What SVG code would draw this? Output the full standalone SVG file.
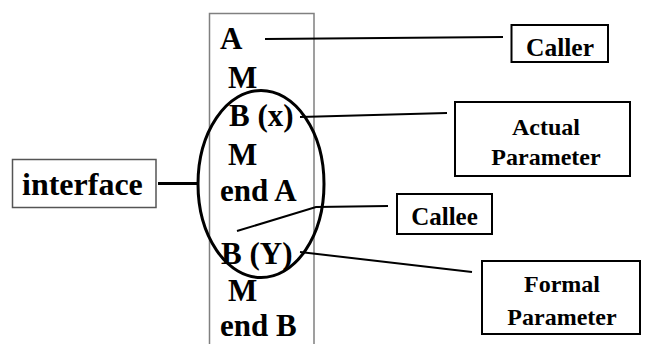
<svg xmlns="http://www.w3.org/2000/svg" width="647" height="344" viewBox="0 0 647 344">
  <style>
    .code { font-family: "Liberation Serif", "Times New Roman", serif; font-weight: bold; font-size: 31px; fill: #000; }
    .label { font-family: "Liberation Serif", "Times New Roman", serif; font-weight: bold; font-size: 24px; fill: #000; text-anchor: middle; }
    .box { fill: #fff; stroke: #000; stroke-width: 2; }
    .wire { fill: none; stroke: #000; stroke-width: 2; }
  </style>
  <rect width="647" height="344" fill="#fff"/>

  <!-- program listing frame (open at the bottom) -->
  <g id="listing">
    <path d="M209.5,344 V13.5 H314 V344" fill="none" stroke="#808080" stroke-width="1.5"/>
    <text class="code" x="220" y="49">A</text>
    <text class="code" x="228" y="88">M</text>
    <text class="code" x="229" y="126">B (x)</text>
    <text class="code" x="228" y="165">M</text>
    <text class="code" x="220" y="201">end A</text>
    <text class="code" x="221" y="264">B (Y)</text>
    <text class="code" x="228" y="301">M</text>
    <text class="code" x="220" y="336">end B</text>
  </g>

  <!-- interface ellipse around the call and the callee header -->
  <g id="interface-region">
    <ellipse cx="261" cy="184" rx="63" ry="93.5" fill="none" stroke="#000" stroke-width="3"/>
  </g>

  <g id="interface">
    <rect x="12.5" y="159.5" width="143.5" height="48" fill="#fff" stroke="#555" stroke-width="1.5"/>
    <text class="code" x="22" y="195" style="font-size:32px">interface</text>
  </g>

  <g id="caller">
    <rect class="box" x="511.5" y="25" width="96.5" height="37"/>
    <text class="label" x="560" y="56" style="font-size:25.5px">Caller</text>
  </g>

  <g id="actual-parameter">
    <rect class="box" x="455" y="102" width="175" height="74"/>
    <text class="label" x="546" y="135">Actual</text>
    <text class="label" x="546" y="165">Parameter</text>
  </g>

  <g id="callee">
    <rect class="box" x="397" y="194" width="95" height="40"/>
    <text class="label" x="444.5" y="225" style="font-size:25px">Callee</text>
  </g>

  <g id="formal-parameter">
    <rect class="box" x="482" y="261" width="158" height="73"/>
    <text class="label" x="562" y="292">Formal</text>
    <text class="label" x="562" y="325">Parameter</text>
  </g>

  <!-- connectors -->
  <g id="connectors">
    <line x1="158" y1="183.5" x2="197" y2="183.5" stroke="#000" stroke-width="3"/>
    <line class="wire" x1="265" y1="39" x2="503" y2="37"/>
    <line class="wire" x1="300" y1="117" x2="447" y2="113"/>
    <polyline class="wire" points="237,231 316,207 388,206"/>
    <line class="wire" x1="300" y1="252" x2="472" y2="272"/>
  </g>
</svg>
